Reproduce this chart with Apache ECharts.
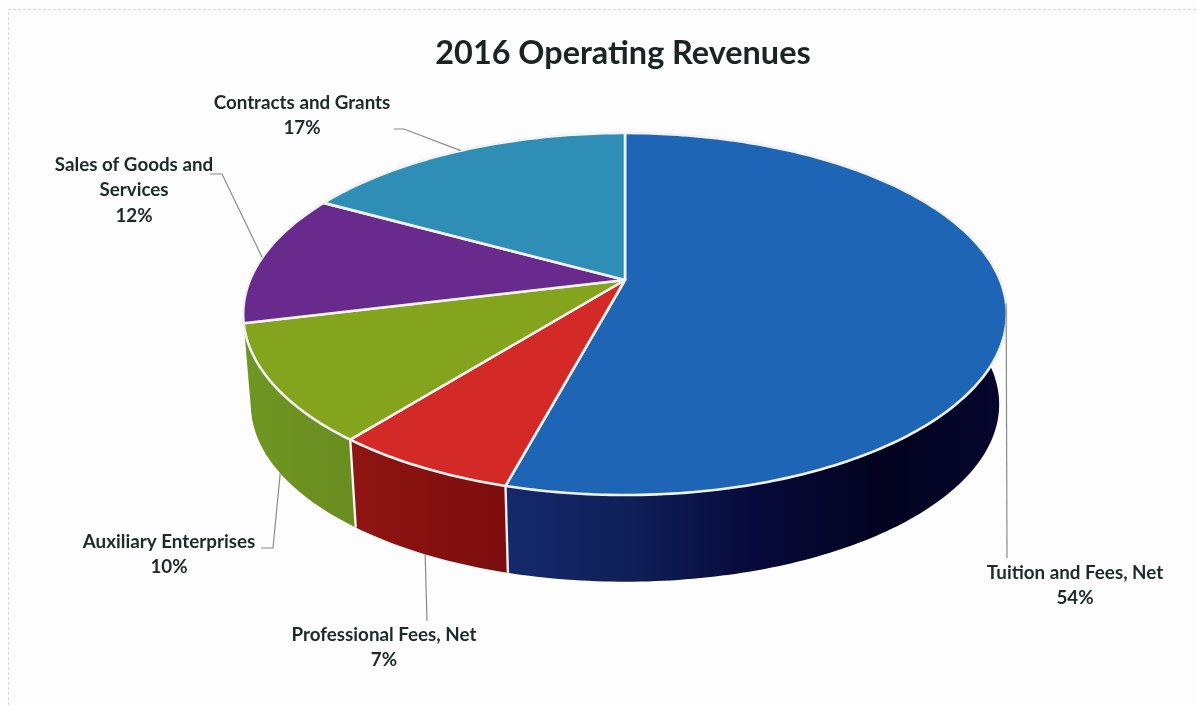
<!DOCTYPE html>
<html><head><meta charset="utf-8">
<style>html,body{margin:0;padding:0;background:#fff}#c{width:1198px;height:705px}</style>
<script src="https://cdn.jsdelivr.net/npm/echarts@6/dist/echarts.min.js"></script>
</head><body><div id="c"></div>
<script>
const titleText = '2016 Operating Revenues';
const categories = ['Tuition and Fees, Net','Professional Fees, Net','Auxiliary Enterprises','Sales of Goods and\nServices','Contracts and Grants'];
const values = [54.2,6.55,10.45,11.8,17];
const topColors = ['#1f65b5','#d42a27','#84a41e','#692a8e','#2f8eb6'];
const sideStops = [['#15296c','#0f1f58','#06093a','#03031f','#05052e'],['#8f1512','#7c0d0c'],['#6f9622','#6a8c20'],null,null];
// Label layout: text centre x, first-line y, and elbow point next to the label.
const labelX = [1075,384,169,134,302];
const labelY = [573,635,542,165,103];
const elbows = [[[1007,558]],[[427,621]],[[261,548],[273,548]],[[210,174],[222,174]],[[394,129],[404,129]]];
const onBottomRim = [false,true,true,false,false];

const cx=625, apexY=280, a=375, b=174.6, k=0.188, botScale=0.98, botY=371;
const total = values.reduce((s,v)=>s+v,0);
const starts=[]; values.reduce((s,v,i)=>(starts[i]=s,s+v),0);
const ang = p => p/total*2*Math.PI;
function topRim(t){const u=Math.sin(t),v=-Math.cos(t),w=1-k*v;return [cx+a*u/w,apexY+b*v/w];}
function botRim(t){const u=Math.sin(t),v=-Math.cos(t),w=1-k*v;return [cx+botScale*a*u/w,botY+botScale*b*v/w];}
function arc(f,t0,t1){const n=Math.max(4,Math.ceil((t1-t0)*60)),r=[];for(let i=0;i<=n;i++)r.push(f(t0+(t1-t0)*i/n));return r;}
const grad=(i,pts)=>{const st=sideStops[i],xs=pts.map(q=>q[0]);
  return new echarts.graphic.LinearGradient(Math.min(...xs),0,Math.max(...xs),0,st.map((c,j)=>({offset:j/(st.length-1),color:c})),true);};
const font='Lato, Carlito, "Open Sans", sans-serif';

const chart=echarts.init(document.getElementById('c'),null,{renderer:'canvas'});
const data=values.map((v,i)=>({name:categories[i],value:[v,i]}));
chart.setOption({
  animation:false,
  backgroundColor:'#fdfdfe',
  tooltip:{show:false},
  title:{text:titleText,left:618,top:33,textAlign:'center',textStyle:{fontFamily:font,fontSize:32.4,fontWeight:'bold',color:'#1a2422'}},
  graphic:[
    {type:'polyline',silent:true,z:-1,shape:{points:[[8.5,705],[8.5,9.5],[1198,9.5]]},style:{fill:null,stroke:'#d8d8d8',lineWidth:1,lineDash:[3,2]}}
  ],
  series:[
   {type:'custom',coordinateSystem:'none',z:2,data:data.slice(0,3),renderItem(p,api){
      const i=api.value(1),s=ang(starts[i]),e=ang(starts[i]+api.value(0));
      const pts=arc(topRim,s,e).concat(arc(botRim,s,e).reverse());
      return {type:'polygon',shape:{points:pts},style:{fill:grad(i,pts)}};
   }},
   {type:'custom',coordinateSystem:'none',z:3,data:data.slice(0,2),renderItem(p,api){
      const i=api.value(1),t=ang(starts[i]+api.value(0));
      return {type:'polyline',shape:{points:[topRim(t),botRim(t)]},style:{stroke:'#f4f4f4',lineWidth:2.4,fill:null}};
   }},
   {type:'custom',coordinateSystem:'none',z:4,data,renderItem(p,api){
      const i=api.value(1),s=ang(starts[i]),e=ang(starts[i]+api.value(0));
      const pts=[[cx,apexY]].concat(arc(topRim,s,e));
      return {type:'polygon',shape:{points:pts},style:{fill:topColors[i],stroke:'#f2f2f2',lineWidth:2.6,lineJoin:'round'}};
   }},
   {type:'custom',coordinateSystem:'none',z:5,data,renderItem(p,api){
      const i=api.value(1),m=ang(starts[i]+api.value(0)/2);
      const anchor=onBottomRim[i]?botRim(m):topRim(m);
      return {type:'group',children:[
        {type:'polyline',shape:{points:elbows[i].concat([anchor])},style:{stroke:'#8a8a8a',lineWidth:1.2,fill:null}},
        {type:'text',style:{x:labelX[i],y:labelY[i]-13,text:categories[i]+'\n'+Math.round(api.value(0))+'%',align:'center',verticalAlign:'top',
           font:'bold 18.8px '+font,lineHeight:25.5,fill:'#1d2a2a'}}
      ]};
   }}
  ]
});
</script></body></html>
